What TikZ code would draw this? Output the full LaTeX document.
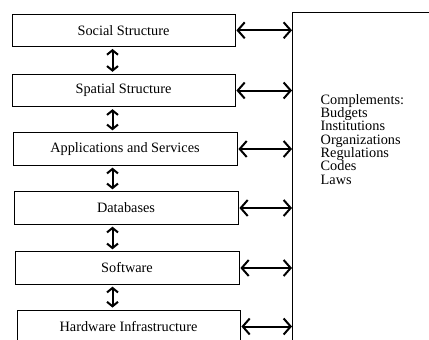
\documentclass[tikz,border=0pt]{standalone}
\usepackage{fontspec}
\setmainfont{Liberation Serif}
\usetikzlibrary{arrows.meta}
\begin{document}
\begin{tikzpicture}[x=1pt,y=-1pt,
  layer/.style={draw,line width=0.8pt,rectangle,inner sep=0pt,
    font=\fontsize{14.3}{15}\selectfont},
  vlink/.style={line width=2pt,
    {Straight Barb[length=4.5pt,width=11pt]}-{Straight Barb[length=4.5pt,width=11pt]}},
  hlink/.style={line width=2pt,
    {Straight Barb[length=7pt,width=16pt]}-{Straight Barb[length=7pt,width=16pt]}}]
  \useasboundingbox (0,0) rectangle (429,340);
  \clip (0,0) rectangle (429,340);
  \fill[white] (0,0) rectangle (429,340);

  % stacked layers
  \node[layer,minimum width=223pt,minimum height=32.5pt] (b1) at (123.5,30.3) {Social Structure};
  \node[layer,minimum width=223pt,minimum height=32.5pt] (b2) at (123.5,90.5) {Spatial Structure};
  \node[layer,minimum width=224pt,minimum height=32.5pt] (b3) at (125,149) {Applications and Services};
  \node[layer,minimum width=224pt,minimum height=32.5pt] (b4) at (126,208) {Databases};
  \node[layer,minimum width=224pt,minimum height=32.5pt] (b5) at (127,268) {Software};
  \node[layer,minimum width=223pt,minimum height=33pt] (b6) at (128.5,326.5) {Hardware Infrastructure};

  % complements frame, running off to the right and bottom
  \node[draw,line width=0.8pt,rectangle,inner sep=0pt,anchor=north west,
        minimum width=200pt,minimum height=360pt] (cbox) at (292,12) {};
  \node[anchor=base west,align=left,inner sep=0pt,
        font=\fontsize{14.3}{13.3}\selectfont] (comp) at (320.5,184)
    {Complements:\\Budgets\\Institutions\\Organizations\\Regulations\\Codes\\Laws};

  \coordinate (vx) at (112.5,0);

  % links between neighbouring layers
  \foreach \a/\b in {b1/b2,b2/b3,b3/b4,b4/b5,b5/b6}
    \draw[vlink,shorten <=2pt,shorten >=2pt] (\a.south -| vx) -- (\b.north -| vx);

  % links to the complements frame
  \foreach \a in {b1,b2,b3,b4,b5,b6}
    \draw[hlink,shorten <=1pt] (\a.east) -- (\a.east -| cbox.west);
\end{tikzpicture}
\end{document}
